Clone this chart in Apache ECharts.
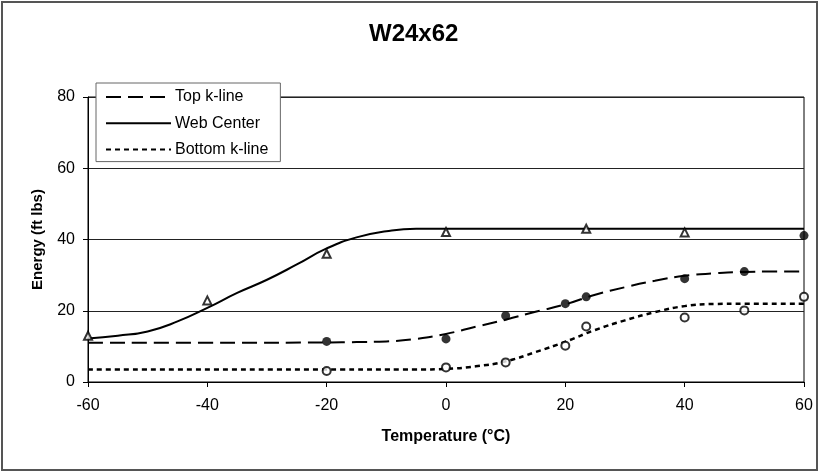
<!DOCTYPE html>
<html>
<head>
<meta charset="utf-8">
<script src="https://cdn.jsdelivr.net/npm/echarts@6/dist/echarts.min.js"></script>
<style>
  html, body { margin: 0; padding: 0; background: #fff; }
  #main { width: 819px; height: 472px; }
</style>
</head>
<body>
<div id="main"></div>
<script>
  // measured points
  var webTemps = [-60, -40, -20, 0, 23.5, 40];
  var webEnergy = [13, 22.9, 36, 42.1, 43, 42];
  var topTemps = [-20, 0, 10, 20, 23.5, 40, 50, 60];
  var topEnergy = [11.4, 12.1, 18.6, 22, 23.9, 29, 31, 41.1];
  var bottomTemps = [-20, 0, 10, 20, 23.5, 40, 50, 60];
  var bottomEnergy = [3.1, 4.1, 5.5, 10.2, 15.6, 18.1, 20.1, 23.9];

  // fitted curves
  var webCurveT = [-60, -55, -50, -45, -40, -35, -30, -25, -20, -15, -10, -5, 0, 20, 40, 60];
  var webCurveE = [12.2, 13, 14.2, 17, 20.8, 25, 28.7, 33, 37.5, 40.6, 42.3, 43, 43, 43, 43, 43];
  var topCurveT = [-60, -40, -20, -15, -10, -5, 0, 5, 10, 15, 20, 25, 30, 35, 40, 45, 50, 55, 60];
  var topCurveE = [11, 11, 11.1, 11.2, 11.4, 12.1, 13.5, 15.5, 17.5, 19.7, 21.8, 24.5, 26.6, 28.4, 29.8, 30.5, 30.9, 31, 31];
  var bottomCurveT = [-60, -20, -5, 0, 5, 10, 15, 20, 25, 30, 35, 40, 45, 50, 60];
  var bottomCurveE = [3.5, 3.5, 3.5, 3.7, 4.4, 5.8, 8.4, 11.3, 14.6, 17.3, 19.6, 21.3, 21.9, 22, 22];

  var xTicks = [-60, 60, 20];   // min, max, step
  var yTicks = [0, 80, 20];

  function pairs(xs, ys) {
    return xs.map(function (x, i) { return [x, ys[i]]; });
  }

  var font = 'Arial, "Liberation Sans", sans-serif';
  var myChart = echarts.init(document.getElementById('main'));

  var options = {
    animation: false,
    backgroundColor: '#fff',
    title: {
      text: 'W24x62',
      left: 369,
      top: 22,
      padding: 0,
      textStyle: { fontFamily: font, fontSize: 24, fontWeight: 'bold', color: '#000' }
    },
    graphic: [{
      type: 'rect',
      shape: { x: 2, y: 2, width: 815, height: 468 },
      style: { fill: 'none', stroke: '#555', lineWidth: 2 },
      z: 100
    }],
    legend: {
      orient: 'vertical',
      left: 96,
      top: 83,
      data: ['Top k-line', 'Web Center', 'Bottom k-line'],
      itemWidth: 65,
      itemHeight: 16,
      itemGap: 10.3,
      padding: [6, 12, 4, 9],
      backgroundColor: '#fff',
      borderColor: '#666',
      borderWidth: 1,
      borderRadius: 0,
      itemStyle: { opacity: 0 },
      textStyle: { fontFamily: font, fontSize: 16, color: '#000', lineHeight: 16, padding: [0, 0, 0, -1] },
      z: 10
    },
    grid: {
      left: 88,
      right: 15,
      top: 97,
      bottom: 90,
      show: true,
      borderColor: '#000',
      borderWidth: 1
    },
    xAxis: {
      type: 'value',
      min: xTicks[0],
      max: xTicks[1],
      interval: xTicks[2],
      name: 'Temperature (°C)',
      nameLocation: 'middle',
      nameGap: 47,
      nameTextStyle: { fontFamily: font, fontSize: 16, fontWeight: 'bold', color: '#000' },
      axisLine: { onZero: false, lineStyle: { color: '#000', width: 1 } },
      axisTick: { show: true, length: 5, lineStyle: { color: '#000' } },
      axisLabel: { fontFamily: font, fontSize: 16, color: '#000', margin: 16 },
      splitLine: { show: false }
    },
    yAxis: {
      type: 'value',
      min: yTicks[0],
      max: yTicks[1],
      interval: yTicks[2],
      name: 'Energy (ft lbs)',
      nameLocation: 'middle',
      nameGap: 43,
      nameRotate: 90,
      nameTextStyle: { fontFamily: font, fontSize: 15, fontWeight: 'bold', color: '#000' },
      axisLine: { show: true, onZero: false, lineStyle: { color: '#000', width: 1 } },
      axisTick: { show: true, length: 5, lineStyle: { color: '#000' } },
      axisLabel: { fontFamily: font, fontSize: 16, color: '#000', margin: 13 },
      splitLine: { show: true, lineStyle: { color: '#222', width: 1 } }
    },
    series: [{
      name: 'Top k-line',
      type: 'line',
      data: pairs(topCurveT, topCurveE),
      smooth: 0.5,
      symbol: 'none',
      lineStyle: { color: '#000', width: 2, type: [15, 7] },
      itemStyle: { color: '#000' }
    }, {
      name: 'Web Center',
      type: 'line',
      data: pairs(webCurveT, webCurveE),
      smooth: 0.5,
      symbol: 'none',
      lineStyle: { color: '#000', width: 2, type: 'solid' },
      itemStyle: { color: '#000' }
    }, {
      name: 'Bottom k-line',
      type: 'line',
      data: pairs(bottomCurveT, bottomCurveE),
      smooth: 0.5,
      symbol: 'none',
      lineStyle: { color: '#000', width: 2.5, type: [5, 4] },
      itemStyle: { color: '#000' }
    }, {
      name: 'Web Center pts',
      type: 'scatter',
      data: pairs(webTemps, webEnergy),
      symbol: 'triangle',
      symbolSize: 8,
      itemStyle: { color: '#fff', borderColor: '#000', borderWidth: 2 },
      z: 5
    }, {
      name: 'Top k-line pts',
      type: 'scatter',
      data: pairs(topTemps, topEnergy),
      symbol: 'circle',
      symbolSize: 9,
      itemStyle: { color: '#000' },
      z: 5
    }, {
      name: 'Bottom k-line pts',
      type: 'scatter',
      data: pairs(bottomTemps, bottomEnergy),
      symbol: 'circle',
      symbolSize: 8,
      itemStyle: { color: '#fff', borderColor: '#000', borderWidth: 2 },
      z: 5
    }]
  };

  myChart.setOption(options);
</script>
</body>
</html>
